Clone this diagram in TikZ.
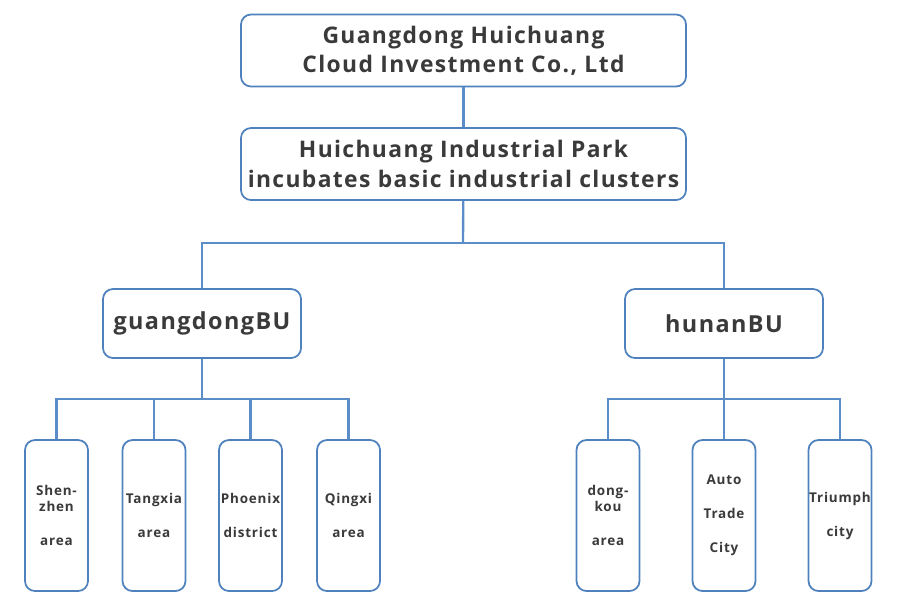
\documentclass[tikz,border=0pt]{standalone}
\usepackage{fontspec}
\setmainfont[LetterSpace=6]{Open Sans}
\usetikzlibrary{positioning}
\definecolor{boxblue}{HTML}{4F81BD}
\definecolor{linkblue}{HTML}{5B8DC9}
\definecolor{txtgray}{HTML}{3A3A3A}
\tikzset{
	unit/.style={draw=boxblue, line width=1.5pt, rectangle, rounded corners=0.3cm, inner sep=0pt, align=center, text=txtgray},
	headbox/.style={unit, minimum width=13.35cm, minimum height=2.16cm, font=\fontsize{19.5}{25}\selectfont\bfseries},
	bubox/.style={unit, minimum width=5.94cm, minimum height=2.07cm, font=\fontsize{20}{25}\selectfont\bfseries},
	areabox/.style={unit, minimum width=1.89cm, minimum height=4.53cm, font=\fontsize{11.5}{29}\selectfont\bfseries},
	link/.style={draw=linkblue, line width=2pt}
}
\begin{document}
\begin{tikzpicture}[x=0.03cm, y=-0.03cm]
		\useasboundingbox (0,0) rectangle (900,605);
		\node[headbox] (company) at (463.5,50.5) {Guangdong Huichuang\\Cloud Investment Co., Ltd};
		\node[headbox] (park) at (463.5,164) {Huichuang Industrial Park\\incubates basic industrial clusters};
		\node[bubox] (gdBU) at (202,323.5) {guangdongBU};
		\node[bubox] (hnBU) at (724,323.5) {hunanBU};
		\node[areabox] (shenzhen) at (56.5,515.5) {Shen-\\[-15pt]zhen\\area};
		\node[areabox] (tangxia) at (154,515.5) {Tangxia\\area};
		\node[areabox] (phoenix) at (250.5,515.5) {Phoenix\\district};
		\node[areabox] (qingxi) at (348.5,515.5) {Qingxi\\area};
		\node[areabox] (dongkou) at (608,515.5) {dong-\\[-15pt]kou\\area};
		\node[areabox] (autotrade) at (724,515.5) {Auto\\Trade\\City};
		\node[areabox] (triumph) at (840,515.5) {Triumph\\city};
		\coordinate (parksplit) at (463,243);
		\coordinate (gdsplit) at (202,399);
		\coordinate (hnsplit) at (724,399);
		\draw[link] (company) -- (park);
		\draw[link] (park) -- (parksplit);
		\draw[link] (parksplit) -| (gdBU);
		\draw[link] (parksplit) -| (hnBU);
		\draw[link] (gdBU) -- (gdsplit);
		\draw[link] (gdsplit) -| (shenzhen);
		\draw[link] (gdsplit) -| (tangxia);
		\draw[link] (gdsplit) -| (phoenix);
		\draw[link] (gdsplit) -| (qingxi);
		\draw[link] (hnBU) -- (hnsplit);
		\draw[link] (hnsplit) -| (dongkou);
		\draw[link] (hnsplit) -- (autotrade);
		\draw[link] (hnsplit) -| (triumph);
	\end{tikzpicture}
\end{document}
